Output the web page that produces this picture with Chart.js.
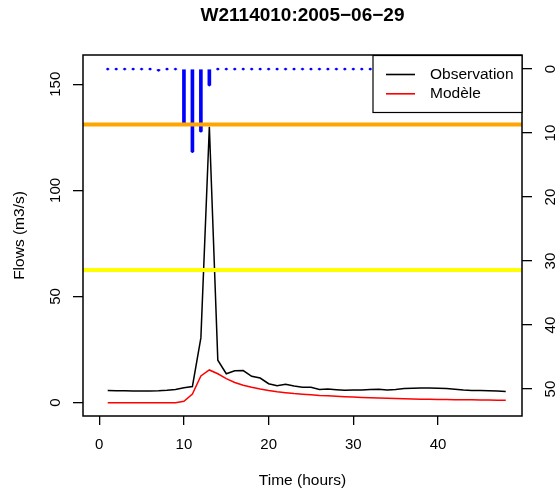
<!DOCTYPE html>
<html>
<head>
<meta charset="utf-8">
<script src="https://cdn.jsdelivr.net/npm/chart.js@4/dist/chart.umd.min.js"></script>
<style>
body { margin: 0; background: #fff; }
</style>
</head>
<body>
<canvas id="chart" width="560" height="494"></canvas>
<script>
const titre = "W2114010:2005−06−29";
const heures = [1, 2, 3, 4, 5, 6, 7, 8, 9, 10, 11, 12, 13, 14, 15, 16, 17, 18, 19, 20, 21, 22, 23, 24,
                25, 26, 27, 28, 29, 30, 31, 32, 33, 34, 35, 36, 37, 38, 39, 40, 41, 42, 43, 44, 45, 46, 47, 48];
const pluie = [0, 0, 0, 0, 0, 0, 0.2, 0, 0, 8.4, 12.9, 9.7, 2.5, 0, 0, 0, 0, 0, 0, 0, 0, 0, 0, 0,
               0, 0, 0, 0, 0, 0, 0, 0, 0, 0, 0, 0, 0, 0, 0, 0, 0, 0, 0, 0, 0, 0, 0, 0];
const observation = [5.7, 5.6, 5.6, 5.5, 5.5, 5.5, 5.6, 5.8, 6.2, 7.0, 7.6, 30.5, 130, 20, 13.6, 15.0, 15.1, 12.4, 11.6, 8.9, 8.0, 8.6, 7.8, 7.3,
                     7.2, 6.2, 6.4, 6.1, 5.8, 5.9, 6.0, 6.2, 6.3, 6.0, 6.2, 6.6, 6.8, 6.9, 6.9, 6.8, 6.6, 6.3, 5.9, 5.7, 5.7, 5.6, 5.5, 5.3];
const modele = [0, 0, 0, 0, 0, 0, 0, 0, 0, 0.6, 4.0, 12.6, 15.4, 13.6, 11.3, 9.5, 8.2, 7.2, 6.4, 5.7, 5.1, 4.7, 4.3, 4.0,
                3.7, 3.4, 3.2, 3.0, 2.8, 2.6, 2.45, 2.3, 2.15, 2.05, 1.95, 1.85, 1.75, 1.65, 1.55, 1.5, 1.45, 1.4, 1.35, 1.3, 1.25, 1.2, 1.15, 1.1];
const seuils = [131.0, 62.5];
const seuilCouleurs = ["#FFA500", "#FFFF00"];
const legende = ['Observation', 'Modèle'];

const xTicks = [0, 10, 20, 30, 40];
const debitTicks = [0, 50, 100, 150];
const pluieTicks = [0, 10, 20, 30, 40, 50];
const xLim = [-1.92, 49.92];
const debitLim = [-6.3, 163.8];
const pluieLim = [-2.2, 54.2];

Chart.defaults.font.family = "'Liberation Sans', Arial, sans-serif";
Chart.defaults.color = "#000";

const pts = (arr) => heures.map((h, i) => ({x: h, y: arr[i]}));

const setTicks = (values) => (scale) => {
    scale.ticks = values.map(v => ({value: v}));
};

const cadre = {
    id: 'cadre',
    afterDraw(chart) {
        const ctx = chart.ctx;
        const a = chart.chartArea;
        ctx.save();
        ctx.strokeStyle = "#000";
        ctx.lineWidth = 1.5;
        ctx.strokeRect(a.left, a.top, a.right - a.left, a.bottom - a.top);

        // legend box, top right inside the plot
        const items = legende.map(l => chart.data.datasets.find(d => d.label == l));
        const w = 149, h = 57;
        const x0 = a.right - w, y0 = a.top + 0.5;
        ctx.fillStyle = "#fff";
        ctx.fillRect(x0, y0, w, h);
        ctx.lineWidth = 1.2;
        ctx.strokeRect(x0, y0, w, h);
        ctx.font = "15.5px 'Liberation Sans', Arial, sans-serif";
        ctx.textBaseline = "middle";
        ctx.textAlign = "left";
        items.forEach((d, i) => {
            const y = y0 + 19 + i * 19.3;
            ctx.strokeStyle = d.borderColor;
            ctx.lineWidth = 1.6;
            ctx.beginPath();
            ctx.moveTo(x0 + 13, y);
            ctx.lineTo(x0 + 42, y);
            ctx.stroke();
            ctx.fillStyle = "#000";
            ctx.fillText(d.label, x0 + 57, y);
        });
        ctx.restore();
    }
};

const datasets = [];
seuils.forEach((s, i) => {
    datasets.push({
        type: 'line',
        label: 'seuil ' + (i + 1),
        data: [{x: xLim[0], y: s}, {x: xLim[1], y: s}],
        borderColor: seuilCouleurs[i],
        borderWidth: 4,
        pointRadius: 0,
        yAxisID: 'y',
        clip: 0,
        order: 0
    });
});
datasets.push({
    type: 'line',
    label: 'Modèle',
    data: pts(modele),
    borderColor: "#FF0000",
    borderWidth: 1.5,
    pointRadius: 0,
    tension: 0,
    yAxisID: 'y',
    order: 1
});
datasets.push({
    type: 'line',
    label: 'Observation',
    data: pts(observation),
    borderColor: "#000000",
    borderWidth: 1.5,
    pointRadius: 0,
    tension: 0,
    yAxisID: 'y',
    order: 2
});
datasets.push({
    type: 'bar',
    label: 'Pluie',
    data: pts(pluie),
    backgroundColor: "#0000FF",
    barThickness: 3,
    base: 0,
    yAxisID: 'y2',
    order: 3
});
datasets.push({
    type: 'line',
    label: 'Pluie points',
    data: pts(pluie),
    showLine: false,
    pointRadius: 1.3,
    pointBorderWidth: 0,
    pointBackgroundColor: "#0000FF",
    yAxisID: 'y2',
    order: 4
});

new Chart(document.getElementById('chart'), {
    data: {datasets: datasets},
    options: {
        responsive: false,
        animation: false,
        devicePixelRatio: 1,
        layout: {padding: 0},
        plugins: {
            legend: {display: false},
            tooltip: {enabled: false},
            title: {
                display: true,
                text: titre,
                fullSize: false,
                font: {size: 19, weight: 'bold'},
                padding: {top: 4, bottom: 28.2}
            }
        },
        scales: {
            x: {
                type: 'linear',
                offset: false,
                min: xLim[0],
                max: xLim[1],
                afterBuildTicks: setTicks(xTicks),
                afterFit: s => { s.height = 78; },
                border: {display: false},
                grid: {offset: false, drawOnChartArea: false, tickLength: 9, color: "#000", lineWidth: 1.3},
                ticks: {font: {size: 15}, padding: 11, maxRotation: 0},
                title: {display: true, text: 'Time (hours)', font: {size: 15.5}, padding: {top: 0, bottom: 3.5}}
            },
            y: {
                type: 'linear',
                position: 'left',
                min: debitLim[0],
                max: debitLim[1],
                afterBuildTicks: setTicks(debitTicks),
                afterFit: s => { s.width = 83; },
                border: {display: false},
                grid: {drawOnChartArea: false, tickLength: 10, color: "#000", lineWidth: 1.3},
                ticks: {font: {size: 15}, padding: 4.5, minRotation: 90, maxRotation: 90, crossAlign: 'center'},
                title: {display: true, text: 'Flows (m3/s)', font: {size: 15.5}, padding: {top: 10, bottom: 0}}
            },
            y2: {
                type: 'linear',
                position: 'right',
                reverse: true,
                min: pluieLim[0],
                max: pluieLim[1],
                afterBuildTicks: setTicks(pluieTicks),
                afterFit: s => { s.width = 38; },
                border: {display: false},
                grid: {drawOnChartArea: false, tickLength: 10, color: "#000", lineWidth: 1.3},
                ticks: {font: {size: 15}, padding: 10.7, minRotation: 90, maxRotation: 90, crossAlign: 'center'}
            }
        }
    },
    plugins: [cadre]
});
</script>
</body>
</html>
